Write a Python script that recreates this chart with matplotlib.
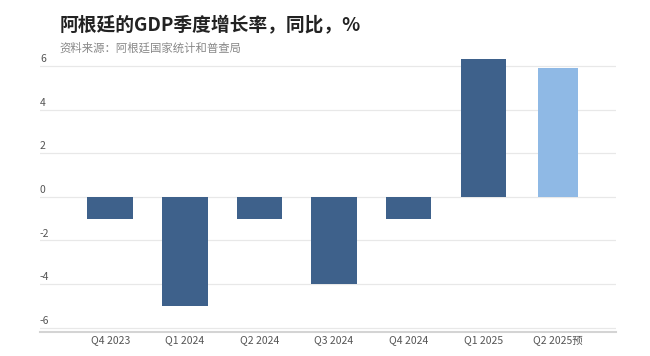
import matplotlib.pyplot as plt

plt.rcParams['font.family'] = ['Noto Sans CJK SC', 'DejaVu Sans']

# Data
quarters = ['Q4 2023', 'Q1 2024', 'Q2 2024', 'Q3 2024', 'Q4 2024', 'Q1 2025', 'Q2 2025预']
growth = [-1.0, -5.0, -1.0, -4.0, -1.0, 6.3, 5.9]
is_forecast = [False, False, False, False, False, False, True]
y_ticks = [-6, -4, -2, 0, 2, 4, 6]

dark_blue = '#3e618b'
light_blue = '#8fb9e5'

fig = plt.figure(figsize=(6.5, 3.56), dpi=100)
ax = fig.add_axes([0.0615, 0.0674, 0.8865, 0.77])

x = list(range(len(quarters)))
colors = [light_blue if f else dark_blue for f in is_forecast]
widths = [0.54 if f else 0.61 for f in is_forecast]
ax.bar(x, growth, width=widths, color=colors, zorder=3)

ax.set_xlim(-0.94, 6.78)
ax.set_ylim(-6.2, 6.37)

# gridlines with labels sitting just above them, on the left
ax.set_yticks(y_ticks)
ax.set_yticklabels([])
ax.tick_params(axis='y', length=0)
ax.grid(axis='y', color='#e8e8e8', linewidth=0.9, zorder=0)
for t in y_ticks:
    ax.text(0.0, t + 0.08, str(t), transform=ax.get_yaxis_transform(),
            ha='left', va='bottom', fontsize=7.5, color='#555555')

ax.set_xticks(x)
ax.set_xticklabels(quarters, fontsize=7.5, color='#555555')
ax.tick_params(axis='x', length=0, pad=2)

for side in ['top', 'right', 'left']:
    ax.spines[side].set_visible(False)
ax.spines['bottom'].set_color('#d4d4d4')
ax.spines['bottom'].set_linewidth(1.5)

fig.text(0.092, 0.928, '阿根廷的GDP季度增长率，同比，%', fontsize=13.5, fontweight='bold',
         color='#222222', ha='left', va='center')
fig.text(0.092, 0.866, '资料来源：阿根廷国家统计和普查局', fontsize=8.2,
         color='#888888', ha='left', va='center')

fig.savefig('out.png', dpi=100, facecolor='white')
